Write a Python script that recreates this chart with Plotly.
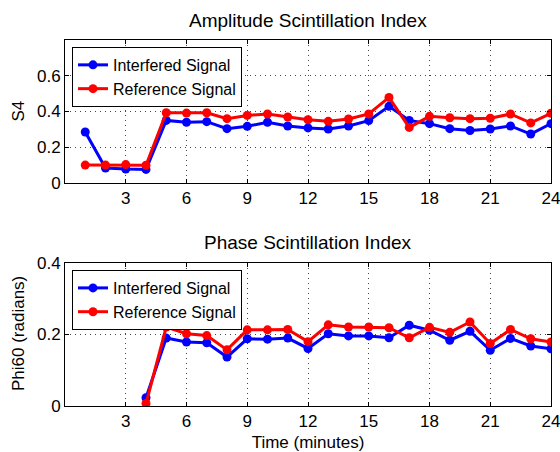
import plotly.graph_objects as go

minutes = list(range(1, 25))
s4_interfered = [0.285, 0.084, 0.078, 0.076, 0.35, 0.34, 0.343, 0.304, 0.317, 0.34, 0.319, 0.308,
                 0.302, 0.319, 0.349, 0.429, 0.35, 0.332, 0.304, 0.294, 0.302, 0.319, 0.274, 0.332]
s4_reference = [0.10, 0.10, 0.103, 0.099, 0.393, 0.391, 0.393, 0.36, 0.378, 0.386, 0.369, 0.354,
                0.345, 0.358, 0.386, 0.479, 0.311, 0.373, 0.365, 0.36, 0.362, 0.386, 0.336, 0.39]
phase_minutes = list(range(4, 25))
phi_interfered = [0.023, 0.19, 0.179, 0.177, 0.137, 0.188, 0.187, 0.19, 0.161, 0.202, 0.196,
                  0.196, 0.191, 0.226, 0.212, 0.184, 0.209, 0.156, 0.189, 0.168, 0.16]
phi_reference = [0.007, 0.221, 0.202, 0.197, 0.157, 0.213, 0.213, 0.214, 0.18, 0.227, 0.221,
                 0.221, 0.219, 0.191, 0.22, 0.206, 0.235, 0.175, 0.214, 0.188, 0.179]
x_ticks = [3, 6, 9, 12, 15, 18, 21, 24]
s4_ticks = [0, 0.2, 0.4, 0.6]
phi_ticks = [0, 0.2, 0.4]

BLUE = "#0000FF"
RED = "#FF0000"
FONT = "Liberation Sans, Arial, sans-serif"

fig = go.Figure()

def add(x, y, name, color, xa, ya, leg):
    fig.add_trace(go.Scatter(
        x=x, y=y, name=name, mode="lines+markers",
        line=dict(color=color, width=3),
        marker=dict(color=color, size=9),
        xaxis=xa, yaxis=ya, legend=leg,
    ))

add(minutes, s4_interfered, "Interfered Signal", BLUE, "x", "y", "legend")
add(minutes, s4_reference, "Reference Signal", RED, "x", "y", "legend")
add(phase_minutes, phi_interfered, "Interfered Signal", BLUE, "x2", "y2", "legend2")
add(phase_minutes, phi_reference, "Reference Signal", RED, "x2", "y2", "legend2")

axis_common = dict(
    showline=True, linecolor="black", linewidth=1, mirror="ticks",
    ticks="inside", ticklen=4, tickcolor="black", automargin=False,
    showgrid=True, gridcolor="#444444", griddash="1px,4px", gridwidth=1,
    zeroline=False, ticklabeloverflow="allow",
    tickfont=dict(size=17, color="black", family=FONT),
)

legend_common = dict(xanchor="left", yanchor="top", bgcolor="white",
                     bordercolor="black", borderwidth=1, font=dict(size=16, family=FONT),
                     tracegroupgap=0, itemwidth=30)

fig.update_layout(
    width=560, height=452,
    margin=dict(l=65, r=9, t=40, b=46),
    paper_bgcolor="white", plot_bgcolor="white",
    font=dict(family=FONT, color="black", size=17),
    showlegend=True,
    xaxis=dict(domain=[0, 1], range=[0, 24], tickvals=x_ticks, anchor="y", **axis_common),
    yaxis=dict(domain=[0.6093, 1], range=[0, 0.8], tickvals=s4_ticks, ticktext=["0", "0.2", "0.4", "0.6"],
               anchor="x", **axis_common),
    xaxis2=dict(domain=[0, 1], range=[0, 24], tickvals=x_ticks, anchor="y2",
                title=dict(text="Time (minutes)", font=dict(size=17)), **axis_common),
    yaxis2=dict(domain=[0, 0.3907], range=[0, 0.4], tickvals=phi_ticks, ticktext=["0", "0.2", "0.4"],
                anchor="x2", **axis_common),
    legend=dict(x=0.0144, y=0.981, **legend_common),
    legend2=dict(x=0.0144, y=0.3716, **legend_common),
    annotations=[
        dict(text="Amplitude Scintillation Index", x=0.5, xref="paper", y=1.0546, yref="paper",
             xanchor="center", yanchor="middle", showarrow=False, font=dict(size=19)),
        dict(text="Phase Scintillation Index", x=0.5, xref="paper", y=0.448, yref="paper",
             xanchor="center", yanchor="middle", showarrow=False, font=dict(size=19)),
        dict(text="S4", x=-0.0967, xref="paper", y=0.8047, yref="paper", textangle=-90,
             xanchor="center", yanchor="middle", showarrow=False, font=dict(size=17)),
        dict(text="Phi60 (radians)", x=-0.0967, xref="paper", y=0.1967, yref="paper", textangle=-90,
             xanchor="center", yanchor="middle", showarrow=False, font=dict(size=17)),
    ],
)

fig.write_html(
    "out.html",
    config={"displayModeBar": False},
    post_script="document.body.style.margin='0';document.body.style.overflow='hidden';",
)
